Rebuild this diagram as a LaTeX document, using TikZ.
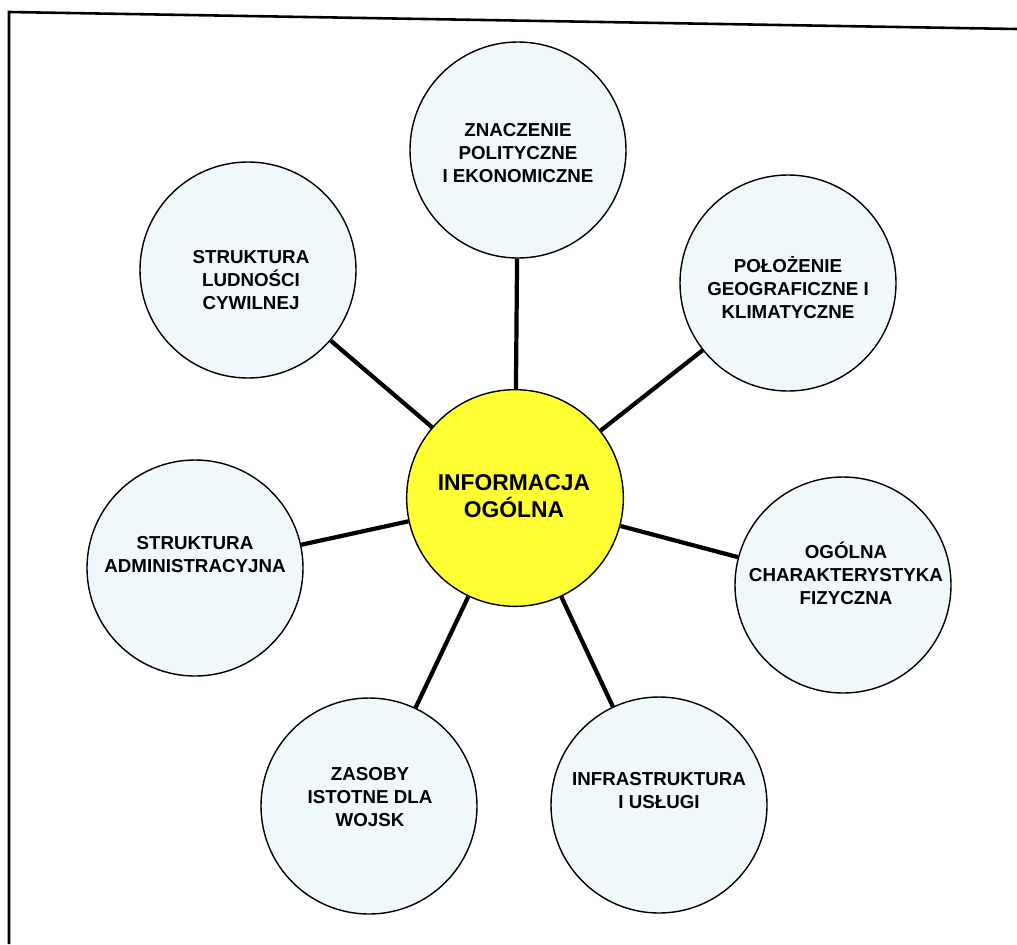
\documentclass[tikz,border=0pt]{standalone}
\usepackage{fontspec}
\setmainfont{Liberation Sans}
\definecolor{paleblue}{RGB}{240,248,252}
\definecolor{hubyellow}{RGB}{255,255,51}
\tikzset{
  bubble/.style={circle, draw=black, line width=1.2pt, fill=paleblue, minimum size=6.48cm, inner sep=0pt},
  hub/.style={bubble, fill=hubyellow, minimum size=6.5cm},
  label text/.style={align=center, font=\bfseries\fontsize{16}{19.6}\selectfont, inner sep=0pt},
  hub text/.style={align=center, font=\bfseries\fontsize{19.5}{23}\selectfont, inner sep=0pt},
  spoke/.style={line width=3.6pt, black},
  frame/.style={line width=2.2pt, black}
}
\begin{document}
\begin{tikzpicture}[x=0.03cm, y=-0.03cm]
\useasboundingbox (0,0) rectangle (1017,944);
\fill[white] (0,0) rectangle (1017,944);
\coordinate (fTR) at (1017,29);
\coordinate (fTL) at (9,12);
\coordinate (fBL) at (9,944);
\draw[frame] (fTR) -- (fTL) -- (fBL);

\node[hub] (C) at (515,498) {};
\node[bubble] (T) at (518,150) {};
\node[bubble] (TL) at (248,270) {};
\node[bubble] (TR) at (788,283) {};
\node[bubble] (L) at (195,568) {};
\node[bubble] (R) at (843,585) {};
\node[bubble] (BL) at (369,806) {};
\node[bubble] (BR) at (659,805) {};

\foreach \n in {T,TL,TR,L,R,BL,BR}{\draw[spoke] (C) -- (\n);}

\node[hub text] (tC) at (514,496) {INFORMACJA\\OGÓLNA};
\node[label text] (tT) at (518,153) {ZNACZENIE\\POLITYCZNE\\I EKONOMICZNE};
\node[label text] (tTL) at (251,280) {STRUKTURA\\LUDNOŚCI\\CYWILNEJ};
\node[label text] (tTR) at (788,288) {POŁOŻENIE\\GEOGRAFICZNE I\\KLIMATYCZNE};
\node[label text] (tL) at (195,555) {STRUKTURA\\ADMINISTRACYJNA};
\node[label text] (tR) at (846,573) {OGÓLNA\\CHARAKTERYSTYKA\\FIZYCZNA};
\node[label text] (tBL) at (370,797) {ZASOBY\\ISTOTNE DLA\\WOJSK};
\node[label text] (tBR) at (659,791) {INFRASTRUKTURA\\I USŁUGI};
\end{tikzpicture}
\end{document}
